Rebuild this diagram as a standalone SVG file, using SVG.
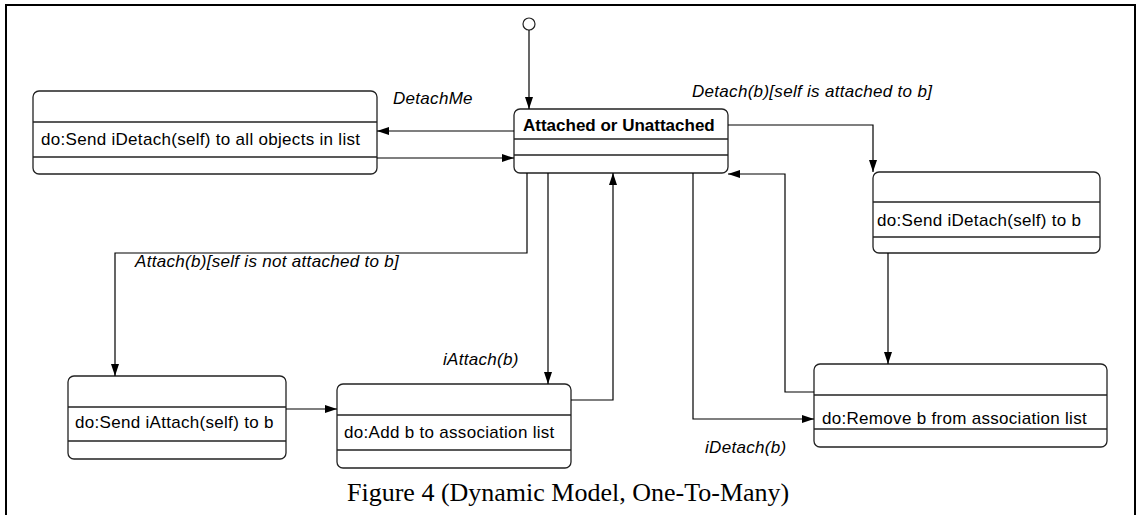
<svg xmlns="http://www.w3.org/2000/svg" width="1141" height="515" viewBox="0 0 1141 515">
  <defs>
    <marker id="arrow" viewBox="0 0 12 8" refX="12" refY="4" markerWidth="12" markerHeight="8" markerUnits="userSpaceOnUse" orient="auto">
      <path d="M0,0 L12,4 L0,8 Z" fill="#000"/>
    </marker>
    <style>
      .state { fill: #fff; stroke: #222; stroke-width: 1.3; }
      .div { stroke: #222; stroke-width: 1.3; }
      .wire { fill: none; stroke: #000; stroke-width: 1.2; marker-end: url(#arrow); }
      .act { font-family: "Liberation Sans", Arial, sans-serif; font-size: 17px; letter-spacing: 0.3px; fill: #000; }
      .title { font-family: "Liberation Sans", Arial, sans-serif; font-size: 17px; font-weight: bold; fill: #000; }
      .evt { font-family: "Liberation Sans", Arial, sans-serif; font-size: 17px; font-style: italic; letter-spacing: 0.3px; fill: #000; }
      .caption { font-family: "Liberation Serif", "Times New Roman", serif; font-size: 26px; fill: #000; }
    </style>
  </defs>

  <rect width="1141" height="515" fill="#fff"/>
  <!-- frame around the figure -->
  <path d="M6,515 V5 H1135 V515" fill="none" stroke="#000" stroke-width="2"/>

  <!-- initial pseudo-state -->
  <g id="initial">
    <circle cx="529" cy="24" r="6" fill="#fff" stroke="#222" stroke-width="1.2"/>
  </g>

  <g id="attached-or-unattached">
    <rect class="state" x="514" y="109" width="214" height="64" rx="6"/>
    <line class="div" x1="514" y1="139" x2="728" y2="139"/>
    <line class="div" x1="514" y1="155" x2="728" y2="155"/>
    <text class="title" x="523" y="131">Attached or Unattached</text>
  </g>

  <g id="detach-all">
    <rect class="state" x="33" y="91" width="344" height="83" rx="6"/>
    <line class="div" x1="33" y1="122" x2="377" y2="122"/>
    <line class="div" x1="33" y1="157" x2="377" y2="157"/>
    <text class="act" x="41" y="145">do:Send iDetach(self) to all objects in list</text>
  </g>

  <g id="send-idetach">
    <rect class="state" x="873" y="172" width="227" height="81" rx="6"/>
    <line class="div" x1="873" y1="202" x2="1100" y2="202"/>
    <line class="div" x1="873" y1="237" x2="1100" y2="237"/>
    <text class="act" x="877" y="226">do:Send iDetach(self) to b</text>
  </g>

  <g id="remove-b">
    <rect class="state" x="814" y="364" width="293" height="83" rx="6"/>
    <line class="div" x1="814" y1="395" x2="1107" y2="395"/>
    <line class="div" x1="814" y1="429" x2="1107" y2="429"/>
    <text class="act" x="822" y="424">do:Remove b from association list</text>
  </g>

  <g id="send-iattach">
    <rect class="state" x="68" y="376" width="218" height="83" rx="6"/>
    <line class="div" x1="68" y1="407" x2="286" y2="407"/>
    <line class="div" x1="68" y1="441" x2="286" y2="441"/>
    <text class="act" x="75" y="428">do:Send iAttach(self) to b</text>
  </g>

  <g id="add-b">
    <rect class="state" x="337" y="384" width="234" height="84" rx="6"/>
    <line class="div" x1="337" y1="415" x2="571" y2="415"/>
    <line class="div" x1="337" y1="450" x2="571" y2="450"/>
    <text class="act" x="344" y="438">do:Add b to association list</text>
  </g>

  <!-- transitions -->
  <g id="connectors">
    <path class="wire" d="M529,30 V109"/>
    <path class="wire" d="M514,131 H377"/>
    <path class="wire" d="M377,158 H514"/>
    <path class="wire" d="M728,125 H873 V172"/>
    <path class="wire" d="M888,253 V364"/>
    <path class="wire" d="M814,392 H785 V174 H728"/>
    <path class="wire" d="M693,173 V419 H814"/>
    <path class="wire" d="M527,173 V253 H115 V376"/>
    <path class="wire" d="M286,409 H337"/>
    <path class="wire" d="M548,173 V384"/>
    <path class="wire" d="M571,400 H613 V173"/>
  </g>

  <!-- transition labels -->
  <g id="labels">
    <text class="evt" x="393" y="104">DetachMe</text>
    <text class="evt" x="692" y="97">Detach(b)[self is attached to b]</text>
    <text class="evt" x="135" y="267">Attach(b)[self is not attached to b]</text>
    <text class="evt" x="443" y="365">iAttach(b)</text>
    <text class="evt" x="705" y="453">iDetach(b)</text>
  </g>

  <text class="caption" x="347" y="501">Figure 4 (Dynamic Model, One-To-Many)</text>
</svg>
